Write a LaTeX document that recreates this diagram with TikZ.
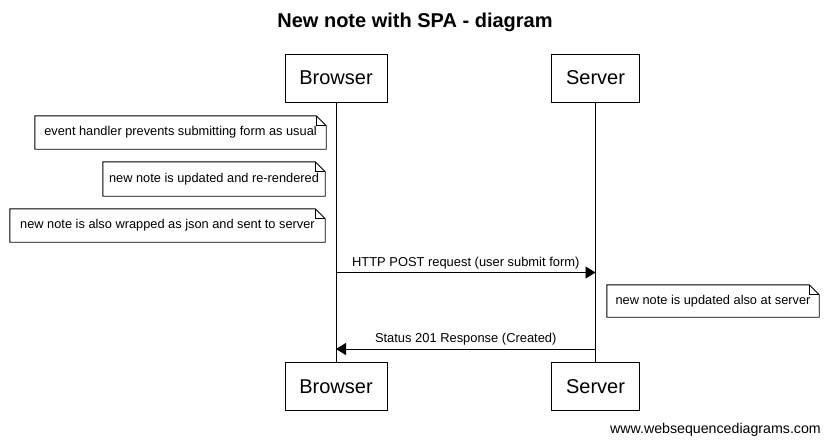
\documentclass[tikz,border=0pt]{standalone}
\usepackage{fontspec}
\setmainfont{Liberation Sans}
\usetikzlibrary{arrows.meta}
\tikzset{
  actor/.style={draw, line width=0.9pt, inner sep=0pt, font=\fontsize{20}{24}\selectfont},
  notetext/.style={inner sep=0pt, font=\fontsize{12.8}{15}\selectfont},
  msg/.style={line width=0.9pt, -{Triangle[length=10pt,width=12pt]}},
  lbl/.style={font=\fontsize{12.9}{15}\selectfont, inner sep=0pt},
  outline/.style={line width=0.9pt}
}
\newcommand{\foldnote}[1]{%
  \draw[outline] (#1.south west) -- (#1.north west) -- ([xshift=-10pt]#1.north east)
    -- ([yshift=-10pt]#1.north east) -- (#1.south east) -- cycle;
  \draw[outline] ([xshift=-10pt]#1.north east) -- ([xshift=-10pt,yshift=-10pt]#1.north east)
    -- ([yshift=-10pt]#1.north east);
}
\begin{document}
\begin{tikzpicture}[x=1pt,y=-1pt]
\useasboundingbox[fill=white] (0,0) rectangle (829,445);
% title
\node[font=\bfseries\fontsize{20}{24}\selectfont, inner sep=0pt] (title) at (415,22) {New note with SPA - diagram};
% actors
\node[actor, minimum width=102pt, minimum height=48pt] (bt) at (336,78) {Browser};
\node[actor, minimum width=88pt, minimum height=48pt] (st) at (595.5,78) {Server};
\node[actor, minimum width=102pt, minimum height=48pt] (bb) at (336,386.5) {Browser};
\node[actor, minimum width=88pt, minimum height=48pt] (sb) at (595.5,386.5) {Server};
% lifelines
\draw[outline] (bt.south) -- (bb.north);
\draw[outline] (st.south) -- (sb.north);
% notes
\node[notetext, minimum width=291pt, minimum height=33pt] (n1) at (180.5,132.5) {event handler prevents submitting form as usual};
\foldnote{n1}
\node[notetext, minimum width=222pt, minimum height=34pt] (n2) at (214,179) {new note is updated and re-rendered};
\foldnote{n2}
\node[notetext, minimum width=315pt, minimum height=33pt] (n3) at (167.5,225.5) {new note is also wrapped as json and sent to server};
\foldnote{n3}
\node[notetext, minimum width=212pt, minimum height=32pt] (n4) at (713,301) {new note is updated also at server};
\foldnote{n4}
% messages
\coordinate (p1) at (bt.south |- 0,272.5);
\coordinate (p2) at (st.south |- 0,272.5);
\draw[msg] (p1) -- node[lbl, above=3pt] {HTTP POST request (user submit form)} (p2);
\coordinate (r1) at (st.south |- 0,349);
\coordinate (r2) at (bt.south |- 0,349);
\draw[msg] (r1) -- node[lbl, above=3pt] {Status 201 Response (Created)} (r2);
% footer
\node[lbl, anchor=east, font=\fontsize{14.2}{17}\selectfont] (foot) at (821,430) {www.websequencediagrams.com};
\end{tikzpicture}
\end{document}
